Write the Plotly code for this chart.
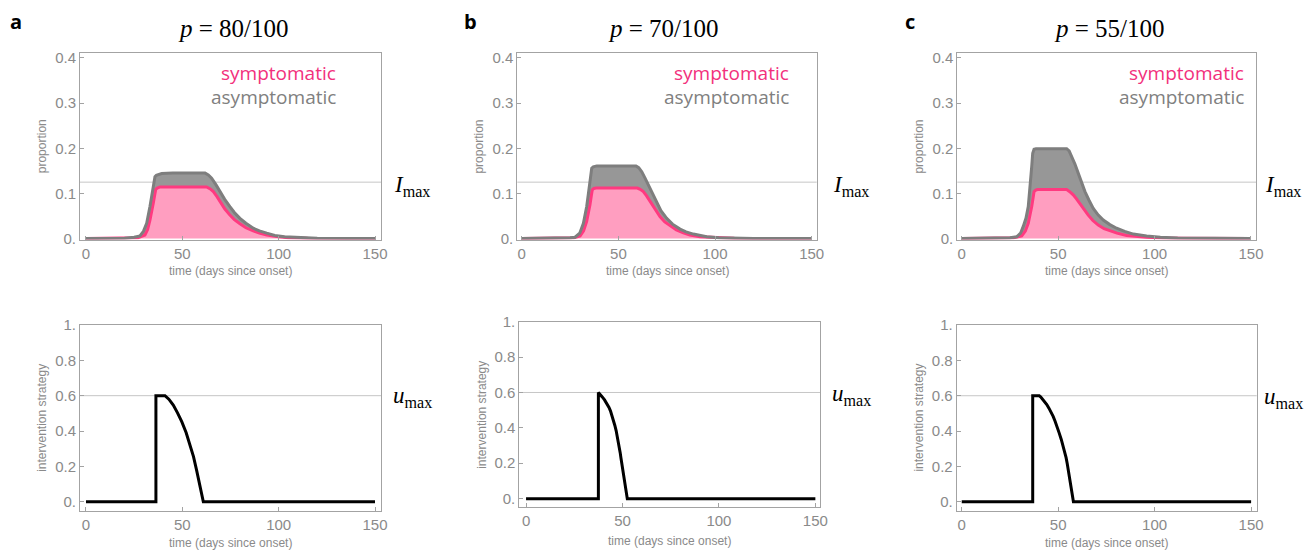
import plotly.graph_objects as go

W, H = 1306, 551

# ---------------- data ----------------
p_labels = ["80/100", "70/100", "55/100"]
panel_letters = ["a", "b", "c"]
I_MAX = 0.125
U_MAX = 0.6

time_ticks = [0, 50, 100, 150]
prop_ticks = [0, 0.1, 0.2, 0.3, 0.4]
prop_ticktext = ["0.", "0.1", "0.2", "0.3", "0.4"]
u_ticks = [0, 0.2, 0.4, 0.6, 0.8, 1.0]
u_ticktext = ["0.", "0.2", "0.4", "0.6", "0.8", "1."]

# panel a (p = 80/100): total infected (symptomatic + asymptomatic)
t_a_total = [0, 20, 25, 28, 29.8, 31.5, 33.2, 34.2, 34.9, 35.5, 35.8, 36.5, 37.5, 39.3, 45, 55,
             61.8, 63.5, 65.2, 67.5, 69.5, 72, 74.7, 77, 79.9, 83, 86.8, 90, 93.8, 98, 103, 110, 120, 150]
a_total = [0, 0.001, 0.003, 0.006, 0.016, 0.034, 0.071, 0.095, 0.115, 0.130, 0.137, 0.140, 0.142, 0.144,
           0.145, 0.145, 0.145, 0.141, 0.134, 0.119, 0.104, 0.087, 0.071, 0.058, 0.045, 0.034, 0.023,
           0.017, 0.012, 0.007, 0.004, 0.002, 0.0005, 0]
# panel a: symptomatic infected
t_a_sym = [0, 22, 27, 30.6, 32, 33.2, 34.2, 34.9, 35.6, 36.2, 37, 38.5, 45, 55, 62.6, 64.5, 66.1, 68,
           69.5, 72, 74.7, 77, 79.9, 83, 86.8, 90, 93.8, 98, 105, 115, 150]
a_sym = [0, 0.0005, 0.002, 0.008, 0.020, 0.041, 0.060, 0.078, 0.095, 0.109, 0.112, 0.1145, 0.1145,
         0.1145, 0.1145, 0.110, 0.104, 0.093, 0.082, 0.066, 0.052, 0.042, 0.033, 0.024, 0.017, 0.012,
         0.008, 0.005, 0.002, 0.0005, 0]
# panel a: intervention
t_a_u = [0, 36.3, 36.3, 41, 43, 45.3, 47.5, 49.7, 52, 54, 55.8, 57.4, 58.5, 59.5, 60.3, 60.9, 150]
a_u = [0, 0, 0.6, 0.6, 0.58, 0.547, 0.503, 0.453, 0.39, 0.321, 0.255, 0.179, 0.125, 0.066, 0.03, 0, 0]

# panel b (p = 70/100)
t_b_total = [0, 20, 25, 27.6, 30, 31.9, 33.6, 34.5, 35.3, 36.2, 37, 38.8, 45, 55, 59.1, 60.5, 62.1,
             63.8, 65.5, 67.5, 69.8, 72, 75, 78, 81.9, 85, 88.8, 95.7, 102, 110, 120, 150]
b_total = [0, 0.0005, 0.002, 0.003, 0.012, 0.034, 0.071, 0.100, 0.130, 0.156, 0.159, 0.161, 0.161,
           0.161, 0.161, 0.157, 0.148, 0.134, 0.119, 0.098, 0.078, 0.062, 0.045, 0.032, 0.021, 0.015,
           0.010, 0.004, 0.002, 0.001, 0.0003, 0]
t_b_sym = [0, 22, 27, 30.2, 32, 33.6, 34.5, 35.3, 36, 36.5, 37.3, 38.5, 45, 55, 59.8, 61.3, 62.9,
           64.5, 66.4, 68.5, 71.5, 74, 76.7, 80, 83.6, 87, 92.2, 100, 110, 150]
b_sym = [0, 0.0005, 0.002, 0.006, 0.017, 0.038, 0.055, 0.075, 0.095, 0.108, 0.111, 0.112, 0.112,
         0.112, 0.112, 0.109, 0.104, 0.095, 0.082, 0.067, 0.049, 0.037, 0.028, 0.019, 0.013, 0.008,
         0.004, 0.002, 0.0005, 0]
t_b_u = [0, 37.5, 37.5, 38.5, 39.5, 40.7, 41.9, 43, 43.8, 44.6, 45.3, 46, 46.7, 47.3, 47.9, 48.4,
         48.8, 49.2, 49.6, 50, 50.4, 51, 51.7, 52.5, 150]
b_u = [0, 0, 0.6, 0.59, 0.575, 0.558, 0.538, 0.515, 0.495, 0.47, 0.444, 0.415, 0.385, 0.354, 0.321,
       0.29, 0.26, 0.23, 0.199, 0.17, 0.14, 0.087, 0.04, 0, 0]

# panel c (p = 55/100)
t_c_total = [0, 20, 25, 28.5, 30.5, 31.9, 33.3, 34.5, 35.2, 35.8, 36.3, 36.8, 37.5, 38.5, 45, 54.4,
             55.7, 57, 58.7, 60.4, 62.1, 63.9, 66, 68.2, 70.8, 73.4, 76.8, 80.3, 84.5, 89, 95.9, 103,
             112, 125, 150]
c_total = [0, 0.0005, 0.002, 0.004, 0.012, 0.027, 0.045, 0.071, 0.100, 0.130, 0.160, 0.189, 0.198,
           0.199, 0.199, 0.199, 0.194, 0.182, 0.165, 0.145, 0.124, 0.104, 0.085, 0.067, 0.052, 0.041,
           0.031, 0.023, 0.016, 0.010, 0.006, 0.003, 0.0015, 0.0005, 0]
t_c_sym = [0, 22, 27, 31.1, 33, 34.5, 35.5, 36.3, 37, 37.5, 38.2, 39.2, 45, 54.4, 56, 57.8, 59.5,
           61.3, 63.3, 65.6, 68, 70.8, 73.8, 76.9, 80.5, 85.5, 95.9, 105, 115, 150]
c_sym = [0, 0.0005, 0.002, 0.006, 0.017, 0.034, 0.052, 0.071, 0.090, 0.104, 0.107, 0.1085, 0.1085,
         0.1085, 0.104, 0.097, 0.088, 0.077, 0.064, 0.052, 0.040, 0.030, 0.022, 0.017, 0.012, 0.007,
         0.003, 0.0015, 0.0005, 0]
t_c_u = [0, 36.8, 36.8, 40.2, 41, 42, 43, 44.1, 45.2, 46.3, 47.4, 48.4, 49.5, 50.5, 51.6, 52.7,
         53.5, 54.1, 54.7, 55.3, 56.2, 57, 57.5, 57.9, 150]
c_u = [0, 0, 0.6, 0.6, 0.593, 0.58, 0.566, 0.55, 0.53, 0.508, 0.483, 0.456, 0.425, 0.39, 0.353,
       0.313, 0.283, 0.25, 0.216, 0.18, 0.12, 0.067, 0.03, 0, 0]

panels = [
    (t_a_total, a_total, t_a_sym, a_sym, t_a_u, a_u),
    (t_b_total, b_total, t_b_sym, b_sym, t_b_u, b_u),
    (t_c_total, c_total, t_c_sym, c_sym, t_c_u, c_u),
]

# ---------------- styling / geometry (pixels) ----------------
PINK_LINE = "#ff3a80"
PINK_FILL = "#ff9ec0"
GRAY_LINE = "#7e7e7e"
GRAY_FILL = "#979797"
FRAME = "#a3a3a3"
LABEL = "#8a8a8a"
REF = "#c6c6c6"

# (left, right, top, bottom) frame in px, x-range, y-range
top_frames = [
    ((80, 381, 53, 239.5), [-3.1, 153.1]),
    ((517.3, 816.7, 53, 239.5), [-2.3, 152.6]),
    ((957.3, 1256, 53, 239.5), [-2.3, 152.6]),
]
bot_frames = [
    ((80, 381, 325, 510.7), [-3.1, 153.1], [-0.051, 1.0]),
    ((519.3, 820, 321.7, 507.3), [-3.5, 152.4], [-0.049, 1.0]),
    ((956.7, 1256.7, 325, 510.7), [-2.6, 152.9], [-0.05, 1.0]),
]
title_x = [233, 663, 1109]
letter_x = [16, 470, 910]
legend_right = [338, 791.5, 1245.5]
ref_label_x = [412, 851, 1283]
u_label_y = [395, 393, 396]
top_title_y = 271
bot_title_y = [543, 541, 543]


def px(x):
    return x / W


def py(y):
    return 1 - y / H


def ax_id(n):
    return "" if n == 1 else str(n)


fig = go.Figure()
annotations = []
shapes = []

tick_font = dict(family="Liberation Sans, Arial, sans-serif", size=15, color=LABEL)
small_font = dict(family="Liberation Sans, Arial, sans-serif", size=12, color=LABEL)


def label(text, x, y, font, xanchor="center", angle=0):
    annotations.append(dict(text=text, x=px(x), y=py(y), xref="paper", yref="paper",
                            xanchor=xanchor, yanchor="middle", showarrow=False,
                            textangle=angle, font=font))


def axis_common():
    return dict(showgrid=False, zeroline=False, showline=True, linecolor=FRAME, linewidth=1,
                mirror=True, ticks="inside", ticklen=4, tickcolor=FRAME, tickfont=tick_font,
                automargin=False)


layout_axes = {}
for i in range(3):
    tt, tot, ts, sym, tu, u = panels[i]
    na = ax_id(2 * i + 1)  # top panel axes
    nb = ax_id(2 * i + 2)  # bottom panel axes
    xa_t, ya_t = f"x{na}", f"y{na}"
    xa_b, ya_b = f"x{nb}", f"y{nb}"

    # symptomatic area (pink) and asymptomatic band (gray)
    fig.add_trace(go.Scatter(x=ts, y=sym, mode="lines", line=dict(width=0, color=PINK_FILL),
                             fill="tozeroy", fillcolor=PINK_FILL, xaxis=xa_t, yaxis=ya_t,
                             showlegend=False, hoverinfo="skip"))
    fig.add_trace(go.Scatter(x=tt, y=tot, mode="lines", line=dict(width=0, color=GRAY_FILL),
                             fill="tonexty", fillcolor=GRAY_FILL, xaxis=xa_t, yaxis=ya_t,
                             showlegend=False, hoverinfo="skip"))
    fig.add_trace(go.Scatter(x=ts, y=sym, mode="lines", line=dict(width=3, color=PINK_LINE),
                             xaxis=xa_t, yaxis=ya_t, showlegend=False, name="symptomatic"))
    fig.add_trace(go.Scatter(x=tt, y=tot, mode="lines", line=dict(width=3, color=GRAY_LINE),
                             xaxis=xa_t, yaxis=ya_t, showlegend=False, name="total"))
    # intervention strategy
    fig.add_trace(go.Scatter(x=tu, y=u, mode="lines", line=dict(width=3, color="black"),
                             xaxis=xa_b, yaxis=ya_b, showlegend=False, name="u"))

    (l, r, t, b), xr = top_frames[i]
    ax = axis_common()
    layout_axes[f"xaxis{na}"] = dict(ax, domain=[px(l), px(r)], range=xr, anchor=ya_t,
                                     tickvals=time_ticks)
    layout_axes[f"yaxis{na}"] = dict(ax, domain=[py(b), py(t)], range=[-0.002, 0.411], anchor=xa_t,
                                     tickvals=prop_ticks, ticktext=prop_ticktext)
    (l2, r2, t2, b2), xr2, yr2 = bot_frames[i]
    layout_axes[f"xaxis{nb}"] = dict(ax, domain=[px(l2), px(r2)], range=xr2, anchor=ya_b,
                                     tickvals=time_ticks)
    layout_axes[f"yaxis{nb}"] = dict(ax, domain=[py(b2), py(t2)], range=yr2, anchor=xa_b,
                                     tickvals=u_ticks, ticktext=u_ticktext)

    # reference levels
    shapes.append(dict(type="line", xref=f"{xa_t} domain", x0=0, x1=1, yref=ya_t, y0=I_MAX, y1=I_MAX,
                       line=dict(color=REF, width=1), layer="below"))
    shapes.append(dict(type="line", xref=f"{xa_b} domain", x0=0, x1=1, yref=ya_b, y0=U_MAX, y1=U_MAX,
                       line=dict(color=REF, width=1), layer="below"))

    # titles and labels
    label(f"<i>p</i> = {p_labels[i]}", title_x[i], 29,
          dict(family="Liberation Serif, serif", size=25, color="black"))
    label(f"<b>{panel_letters[i]}</b>", letter_x[i], 22,
          dict(family="Open Sans, sans-serif", size=20, color="black"))
    label("symptomatic", legend_right[i], 73,
          dict(family="Open Sans, sans-serif", size=19, color="#f2307c"), xanchor="right")
    label("asymptomatic", legend_right[i], 97,
          dict(family="Open Sans, sans-serif", size=19, color="#808080"), xanchor="right")
    label("<i>I</i><sub>max</sub>", ref_label_x[i], 186,
          dict(family="Liberation Serif, serif", size=23, color="black"))
    label("<i>u</i><sub>max</sub>", ref_label_x[i], u_label_y[i] + 2,
          dict(family="Liberation Serif, serif", size=23, color="black"))
    # axis titles
    label("proportion", l - 38, (t + b) / 2, small_font, angle=-90)
    label("intervention strategy", l2 - 38, (t2 + b2) / 2, small_font, angle=-90)
    label("time (days since onset)", (l + r) / 2, top_title_y, small_font)
    label("time (days since onset)", (l2 + r2) / 2, bot_title_y[i], small_font)

fig.update_layout(width=W, height=H, autosize=False,
                  margin=dict(l=0, r=0, t=0, b=0, pad=0, autoexpand=False),
                  paper_bgcolor="white", plot_bgcolor="white", annotations=annotations,
                  shapes=shapes, showlegend=False, **layout_axes)

fig.write_html("out.html")
